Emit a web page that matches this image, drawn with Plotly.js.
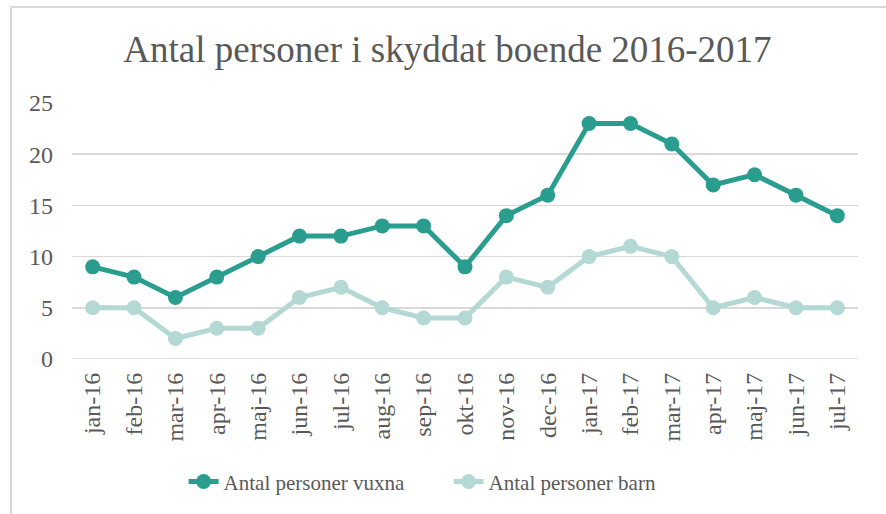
<!DOCTYPE html>
<html>
<head>
<meta charset="utf-8">
<script src="https://cdn.plot.ly/plotly-3.0.1.min.js"></script>
<style>
html,body{margin:0;padding:0;background:#fff;}
#wrap{position:relative;width:886px;height:514px;overflow:hidden;}
#frame{position:absolute;left:10px;top:6px;width:900px;height:600px;border-left:2px solid #d9d9d9;border-top:2px solid #d9d9d9;box-sizing:border-box;pointer-events:none;z-index:5;}
#chart{position:absolute;left:0;top:0;width:886px;height:514px;}
</style>
</head>
<body>
<div id="wrap"><div id="chart"></div><div id="frame"></div></div>
<script>
const months = ["jan-16","feb-16","mar-16","apr-16","maj-16","jun-16","jul-16","aug-16","sep-16","okt-16","nov-16","dec-16","jan-17","feb-17","mar-17","apr-17","maj-17","jun-17","jul-17"];
const vuxna = [9,8,6,8,10,12,12,13,13,9,14,16,23,23,21,17,18,16,14];
const barn = [5,5,2,3,3,6,7,5,4,4,8,7,10,11,10,5,6,5,5];
const yTicks = [0,5,10,15,20,25];

const font = "Liberation Serif, Times New Roman, serif";
const traces = [
  {x: months, y: vuxna, name: "Antal personer vuxna", type: "scatter", mode: "lines+markers",
   line: {color: "#2a9d8f", width: 5}, marker: {color: "#2a9d8f", size: 15}},
  {x: months, y: barn, name: "Antal personer barn", type: "scatter", mode: "lines+markers",
   line: {color: "#b4d8d4", width: 5}, marker: {color: "#b4d8d4", size: 15}}
];
const layout = {
  width: 886, height: 514,
  margin: {l: 72, r: 28, t: 103, b: 155},
  paper_bgcolor: "#fff", plot_bgcolor: "#fff",
  font: {family: font, color: "#595959", size: 24},
  title: {text: "Antal personer i skyddat boende 2016-2017", font: {family: font, size: 37, color: "#595959"}, x: 0.505, xanchor: "center", y: 0.905, yanchor: "middle"},
  xaxis: {type: "category", range: [-0.5, months.length - 0.5], tickangle: -90, automargin: false, showgrid: false, zeroline: false, showline: false, ticks: "", ticklabelstandoff: 8, tickfont: {size: 24, family: font, color: "#595959"}, fixedrange: true},
  yaxis: {range: [0, 25], automargin: false, tickvals: yTicks, ticktext: yTicks.map(String), showgrid: true, gridcolor: "#d9d9d9", gridwidth: 1.5, zeroline: false, showline: false, ticks: "", ticklabelstandoff: 18, tickfont: {size: 24, family: font, color: "#595959"}, fixedrange: true},
  showlegend: true,
  legend: {orientation: "h", x: 0.142, xanchor: "left", y: -0.48, yanchor: "middle", font: {size: 21, family: font, color: "#595959"}, entrywidth: 220, entrywidthmode: "pixels", traceorder: "normal"},
  shapes: [{type: "line", xref: "paper", yref: "y", x0: 0, x1: 1, y0: 0, y1: 0, line: {color: "#d9d9d9", width: 1.5}, layer: "below"}]
};
Plotly.newPlot("chart", traces, layout, {displayModeBar: false, staticPlot: true});
</script>
</body>
</html>
